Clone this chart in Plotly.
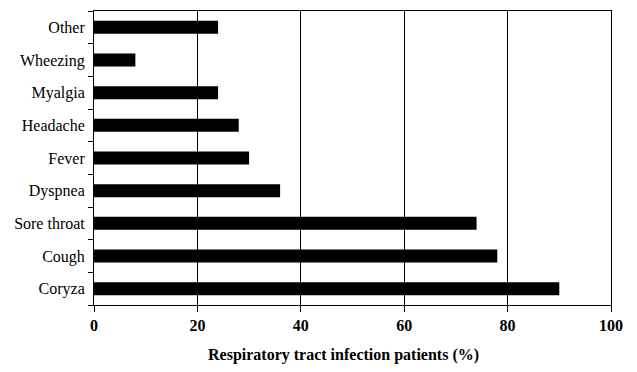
import plotly.graph_objects as go

categories = ["Coryza", "Cough", "Sore throat", "Dyspnea", "Fever", "Headache", "Myalgia", "Wheezing", "Other"]
values = [90, 78, 74, 36, 30, 28, 24, 8, 24]
x_ticks = [0, 20, 40, 60, 80, 100]
x_title = "Respiratory tract infection patients (%)"

fig = go.Figure(go.Bar(
    y=categories, x=values, orientation="h",
    marker=dict(color="black", line=dict(width=0)),
))

serif = "Liberation Serif"
fig.update_layout(
    width=629, height=364,
    margin=dict(l=86, r=26, t=3, b=67, autoexpand=False),
    paper_bgcolor="white", plot_bgcolor="white",
    bargap=0.6,
    showlegend=False,
    font=dict(family=serif, color="black"),
    annotations=[dict(
        text=f"<b>{x_title}</b>", xref="paper", yref="paper",
        x=0.482, y=0, yshift=-50, xanchor="center", yanchor="middle",
        showarrow=False, font=dict(size=16, family=serif, color="black"),
    )],
)
fig.update_xaxes(
    range=[0, 100], tickvals=x_ticks, ticktext=[f"<b>{v}</b>" for v in x_ticks],
    showgrid=True, gridcolor="black", gridwidth=1,
    showline=True, linecolor="black", linewidth=1, mirror=True,
    ticks="outside", ticklen=6, tickcolor="black",
    tickfont=dict(size=16, family=serif),
    zeroline=False, automargin=False,
)
fig.update_yaxes(
    categoryorder="array", categoryarray=categories,
    showline=True, linecolor="black", linewidth=1, mirror=True,
    ticks="outside", ticklen=5, tickcolor="black", tickson="boundaries",
    tickfont=dict(size=16, family=serif), ticklabelstandoff=5,
    showgrid=False, automargin=False,
)
fig.write_html("out.html")
